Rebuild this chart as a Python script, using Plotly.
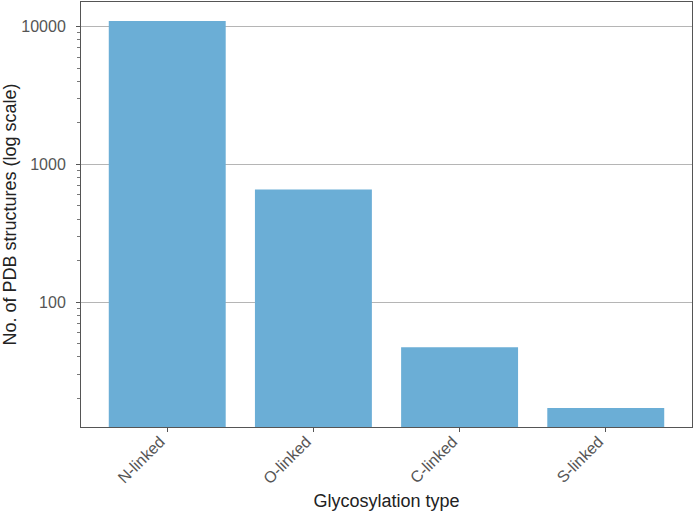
import plotly.graph_objects as go

# --- Data
GLYCO_TYPES = ["N-linked", "O-linked", "C-linked", "S-linked"]
PDB_COUNTS = [11000, 655, 47, 17]

BAR_COLOR = "#6baed6"
FONT = "Liberation Sans, Arial, sans-serif"

fig = go.Figure()
fig.add_trace(go.Bar(
    x=list(range(len(GLYCO_TYPES))), y=PDB_COUNTS,
    width=0.8, marker=dict(color=BAR_COLOR, line=dict(width=0)),
    hovertemplate="%{y}<extra></extra>",
))

fig.update_layout(
    width=693, height=516,
    margin=dict(l=81, r=1, t=2, b=89),
    plot_bgcolor="white", paper_bgcolor="white",
    font=dict(family=FONT, size=16, color="#222222"),
    showlegend=False,
)
fig.update_xaxes(
    range=[-0.59, 3.59], automargin=False,
    tickvals=list(range(len(GLYCO_TYPES))), ticktext=GLYCO_TYPES,
    tickangle=-45, tickfont=dict(size=16, color="#555555"),
    ticklabelshift=-7, ticklabelstandoff=-6,
    ticks="outside", ticklen=4, tickcolor="#555555",
    showline=True, linecolor="#555555", linewidth=1, mirror=True,
    showgrid=False, zeroline=False,
    title=dict(text="Glycosylation type", font=dict(size=18, color="#222222"), standoff=8),
)
fig.update_yaxes(
    type="log", range=[1.0922, 4.1787], automargin=False,
    dtick=1, tickformat="d",
    tickfont=dict(size=16, color="#555555"), ticklabelstandoff=7,
    ticks="outside", ticklen=4, tickcolor="#555555",
    minor=dict(ticks="outside", ticklen=3, tickcolor="#777777", dtick="D1", showgrid=False),
    showline=True, linecolor="#555555", linewidth=1, mirror=True,
    showgrid=True, gridcolor="#b5b5b5", gridwidth=1, zeroline=False,
    title=dict(text="No. of PDB structures (log scale)", font=dict(size=18, color="#222222"), standoff=5),
)

# page body has a default 8px margin; drop it so the figure sits at 0,0
fig.write_html(
    "out.html",
    config={"displayModeBar": False},
    post_script="document.body.style.margin='0';document.body.style.overflow='hidden';",
)
